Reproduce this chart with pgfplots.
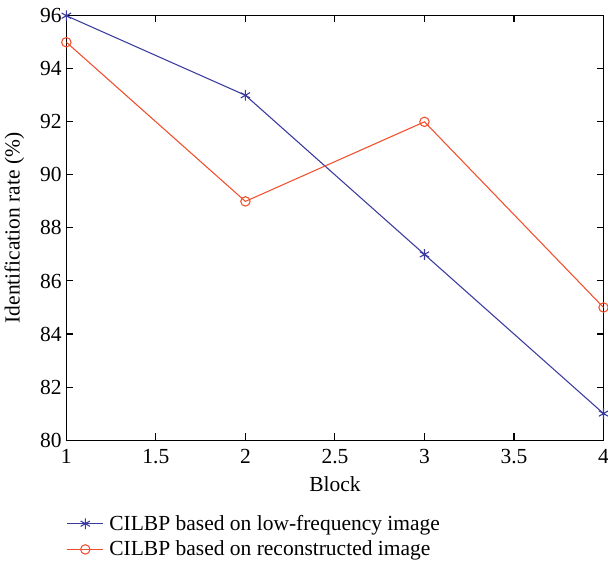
\documentclass[border={0pt 0pt -4pt 3pt}]{standalone}
\usepackage{pgfplots}
\pgfplotsset{compat=1.18}
\usepackage{fontspec}
\setmainfont{Liberation Serif}
\definecolor{lowfreq}{HTML}{3A3A9E}
\definecolor{recon}{HTML}{F0502E}
\begin{document}
\begin{tikzpicture}
\begin{axis}[
    scale only axis,
    width=400pt,
    height=316pt,
    xmin=1, xmax=4,
    ymin=80, ymax=96,
    xtick={1,1.5,...,4},
    ytick={80,82,...,96},
    tick align=inside,
    major tick length=5pt,
    axis line style={line width=0.8pt},
    every tick/.style={black, line width=0.8pt},
    xlabel={Block},
    ylabel={Identification rate (\%)},
    ylabel style={yshift=5pt},
    xlabel style={yshift=-3pt},
    label style={font=\fontsize{16}{18}\selectfont},
    tick label style={font=\fontsize{16}{18}\selectfont},
    /pgf/number format/assume math mode=true,
    xticklabel style={/pgf/number format/fixed, yshift=-3pt},
    legend style={
        draw=none,
        fill=none,
        at={(0,-0.165)},
        anchor=north west,
        inner xsep=0pt,
        font=\fontsize{16}{18}\selectfont,
        legend cell align=left,
        row sep=3.5pt,
        nodes={inner ysep=1.5pt, inner xsep=4pt},
    },
    legend image code/.code={
        \draw[#1] (0cm,0cm) -- (0.95cm,0cm);
        \draw[#1, only marks] plot coordinates {(0.475cm,0cm)};
    },
]
\addplot[color=lowfreq, line width=0.8pt, mark=asterisk, mark size=4pt] coordinates {
    (1,96) (2,93) (3,87) (4,81)
};
\addplot[color=recon, line width=0.8pt, mark=o, mark size=3.5pt] coordinates {
    (1,95) (2,89) (3,92) (4,85)
};
\legend{CILBP based on low-frequency image, CILBP based on reconstructed image}
\end{axis}
\end{tikzpicture}
\end{document}
